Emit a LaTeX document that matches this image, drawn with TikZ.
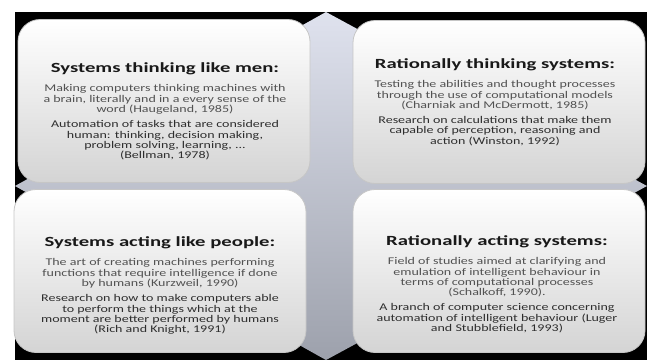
\documentclass[tikz,border=0pt]{standalone}
\usepackage{fontspec}
\setmainfont{Carlito}
\newfontfamily\headfont[FakeStretch=1.48]{Carlito}
\newfontfamily\blurbfont[FakeStretch=1.36]{Carlito}
\usetikzlibrary{positioning}
\definecolor{tilegray}{HTML}{D4D4D4}
\definecolor{crosstop}{HTML}{DFE2EE}
\definecolor{crossbot}{HTML}{9DA1AC}
\tikzstyle{panel}=[rectangle,rounded corners=22pt,minimum width=292pt,minimum height=163pt,top color=white,bottom color=tilegray,draw=gray!45,line width=0.8pt]
\tikzstyle{heading}=[inner sep=0pt,font=\headfont\fontsize{14}{16}\selectfont\bfseries,text=black!90]
\tikzstyle{blurb}=[inner sep=0pt,align=center,font=\blurbfont\fontsize{10.3}{10.4}\selectfont,text=black!68]
\tikzstyle{blurbdark}=[blurb,text=black!82]

\begin{document}
\begin{tikzpicture}[x=1pt,y=-1pt,node distance=9pt]
    \useasboundingbox (0,0) rectangle (649,360);
    % First the black ground and the cross behind the panels
    \fill[black] (15,12) rectangle (647,360);
    \shade[top color=crosstop,bottom color=crossbot] (326,12) -- (647,186) -- (326,360) -- (15,186) -- cycle;
    % The four panels
    \foreach \pos/\name in {{(164,101)/tl}, {(499,102)/tr}, {(160,271)/bl}, {(499,271)/br}}
        \node[panel] (\name) at \pos {};
    % Texts of the panels
    \node[heading] (tlhead) at (165,69) {Systems thinking like men:};
    \node[blurb, below=of tlhead] (tlone) {Making computers thinking machines with\\a brain, literally and in a every sense of the\\word (Haugeland, 1985)};
    \node[blurbdark, below=6pt of tlone] (tltwo) {Automation of tasks that are considered\\human: thinking, decision making,\\problem solving, learning, ...\\(Bellman, 1978)};

    \node[heading] (trhead) at (495,65) {Rationally thinking systems:};
    \node[blurb, below=of trhead] (trone) {Testing the abilities and thought processes\\through the use of computational models\\(Charniak and McDermott, 1985)};
    \node[blurbdark, below=6pt of trone] (trtwo) {Research on calculations that make them\\capable of perception, reasoning and\\action (Winston, 1992)};

    \node[heading] (blhead) at (160,243) {Systems acting like people:};
    \node[blurb, below=of blhead] (blone) {The art of creating machines performing\\functions that require intelligence if done\\by humans (Kurzweil, 1990)};
    \node[blurbdark, below=6pt of blone] (bltwo) {Research on how to make computers able\\to perform the things which at the\\moment are better performed by humans\\(Rich and Knight, 1991)};

    \node[heading] (brhead) at (497,242) {Rationally acting systems:};
    \node[blurb, below=of brhead] (brone) {Field of studies aimed at clarifying and\\emulation of intelligent behaviour in\\terms of computational processes\\(Schalkoff, 1990).};
    \node[blurbdark, below=6pt of brone] (brtwo) {A branch of computer science concerning\\automation of intelligent behaviour (Luger\\and Stubblefield, 1993)};
\end{tikzpicture}
\end{document}
